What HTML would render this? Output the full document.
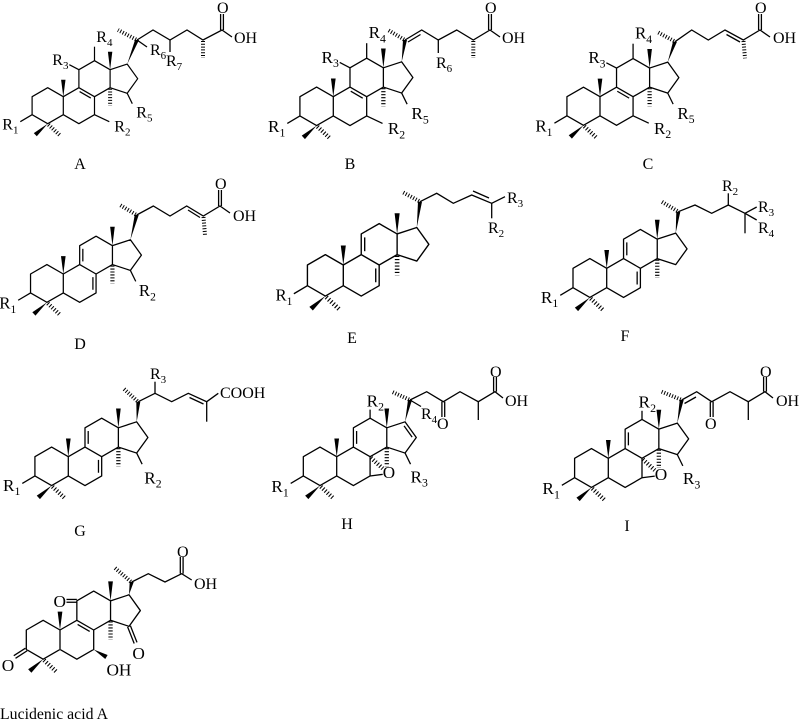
<!DOCTYPE html>
<html><head><meta charset="utf-8"><style>
html,body{margin:0;padding:0;background:#fff;}
svg{display:block;}
text{font-family:"Liberation Serif",serif;fill:#000;font-size:16px;}
tspan{font-size:11px;}
</style></head><body>
<svg width="800" height="723" viewBox="0 0 800 723" xmlns="http://www.w3.org/2000/svg">
<defs>
<g id="core">
 <path d="M-15.6,-9 L-31.2,0 L-31.2,18 L-15.6,27 L0,18 L0,0 Z M0,18 L15.6,27 L31.2,18 L31.2,0 L15.6,-9 L0,0 M15.6,-9 L15.6,-27 L31.2,-36 L46.8,-27 L46.8,-9 L31.2,0 M46.8,-27 L63.9,-32.6 L74.4,-18 L63.9,-3.4 L46.8,-9" fill="none" stroke="#000" stroke-width="1.2" stroke-linejoin="round"/>
 <line x1="46.8" y1="-8" x2="46.8" y2="9" stroke="#000" stroke-width="4" stroke-dasharray="1 1.8"/>
 <line x1="-14.8" y1="28" x2="-3" y2="39" stroke="#000" stroke-width="4" stroke-dasharray="1 1.8"/>
 <polygon points="0,0 -2.2,-17 2.2,-17" fill="#000"/>
 <polygon points="46.8,-27 44.6,-45 49,-45" fill="#000"/>
 <polygon points="-15.6,27 -26.5,39.6 -29.5,36.4" fill="#000"/>
</g>
<line id="d89" x1="16.3" y1="-5.15" x2="27.5" y2="1.35" stroke="#000" stroke-width="1.2"/>
<g id="d7911" stroke="#000" stroke-width="1.2"><line x1="28.2" y1="3" x2="28.2" y2="15"/><line x1="18.6" y1="-24" x2="18.6" y2="-12"/></g>
<line id="d911" x1="18.6" y1="-24" x2="18.6" y2="-12" stroke="#000" stroke-width="1.2"/>
<line id="sR1" x1="-31.2" y1="18" x2="-43" y2="25" stroke="#000" stroke-width="1.2"/>
<line id="sC7" x1="31.2" y1="18" x2="46" y2="25" stroke="#000" stroke-width="1.2"/>
<line id="sC11" x1="15.6" y1="-27" x2="6" y2="-32" stroke="#000" stroke-width="1.2"/>
<line id="sC12" x1="31.2" y1="-36" x2="31.2" y2="-50" stroke="#000" stroke-width="1.2"/>
<line id="sC12s" x1="31.2" y1="-36" x2="31.2" y2="-44" stroke="#000" stroke-width="1.2"/>
<line id="sC15" x1="63.9" y1="-3.4" x2="69" y2="7" stroke="#000" stroke-width="1.2"/>
<g id="epox"><line x1="32" y1="1" x2="43" y2="11" stroke="#000" stroke-width="4" stroke-dasharray="1 1.8"/><line x1="31.2" y1="18" x2="43" y2="16.5" stroke="#000" stroke-width="1.2"/></g>
</defs>

<!-- A -->
<g transform="translate(63.3,96.7)">
 <use href="#core"/><use href="#d89"/><use href="#sR1"/><use href="#sC7"/><use href="#sC11"/><use href="#sC12"/><use href="#sC15"/>
 <g><text x="-61" y="33">R<tspan dy="4">1</tspan></text><text x="51" y="35">R<tspan dy="4">2</tspan></text><text x="-11" y="-31.7">R<tspan dy="4">3</tspan></text><text x="33" y="-54.7">R<tspan dy="4">4</tspan></text><text x="73" y="21">R<tspan dy="4">5</tspan></text></g>
</g>
<g stroke="#000" stroke-width="1.3" fill="none">
 <polyline points="137,40 153,30 170,40 187,30 203,40 222,30 232,37"/>
 <line x1="147" y1="47" x2="137" y2="40"/><line x1="170" y1="40" x2="170" y2="52"/>
 <line x1="220.6" y1="30" x2="220.6" y2="14"/><line x1="223.4" y1="30" x2="223.4" y2="14"/>
 <line x1="136" y1="39.5" x2="118" y2="30" stroke-width="4" stroke-dasharray="1 1.8"/>
 <line x1="203" y1="41" x2="203" y2="58" stroke-width="4" stroke-dasharray="1 1.8"/>
</g>
<polygon points="127.2,64.1 135,40 139,40"/>
<g><text x="150" y="55">R<tspan dy="4">6</tspan></text><text x="166" y="66">R<tspan dy="4">7</tspan></text><text x="217" y="13">O</text><text x="234" y="43">OH</text></g>

<!-- B -->
<g transform="translate(333.3,96.7) scale(1.07)">
 <use href="#core"/><use href="#d89"/><use href="#sR1"/><use href="#sC7"/><use href="#sC11"/><use href="#sC12"/><use href="#sC15"/>
 <g><text x="-61" y="33">R<tspan dy="4">1</tspan></text><text x="51" y="35">R<tspan dy="4">2</tspan></text><text x="-11" y="-31.7">R<tspan dy="4">3</tspan></text><text x="33" y="-54.7">R<tspan dy="4">4</tspan></text><text x="73" y="21">R<tspan dy="4">5</tspan></text></g>
</g>
<g stroke="#000" stroke-width="1.3" fill="none">
 <polyline points="405,40 421.7,30 438.3,40 456.7,30 473.3,40 490,30 500,37"/>
 <line x1="408" y1="42" x2="420.5" y2="34.5"/>
 <line x1="438.3" y1="40" x2="438.3" y2="53"/>
 <line x1="488.6" y1="30" x2="488.6" y2="14"/><line x1="491.4" y1="30" x2="491.4" y2="14"/>
 <line x1="404" y1="39.5" x2="388" y2="30" stroke-width="4" stroke-dasharray="1 1.8"/>
 <line x1="473.3" y1="41" x2="473.3" y2="58" stroke-width="4" stroke-dasharray="1 1.8"/>
</g>
<polygon points="401.7,61.8 403,40 407,40"/>
<g><text x="436" y="68">R<tspan dy="4">6</tspan></text><text x="485" y="13">O</text><text x="502" y="43">OH</text></g>

<!-- C -->
<g transform="translate(600,96.7) scale(1.06)">
 <use href="#core"/><use href="#d89"/><use href="#sR1"/><use href="#sC7"/><use href="#sC11"/><use href="#sC12"/><use href="#sC15"/>
 <g><text x="-61" y="33">R<tspan dy="4">1</tspan></text><text x="51" y="35">R<tspan dy="4">2</tspan></text><text x="-11" y="-31.7">R<tspan dy="4">3</tspan></text><text x="33" y="-54.7">R<tspan dy="4">4</tspan></text><text x="73" y="21">R<tspan dy="4">5</tspan></text></g>
</g>
<g stroke="#000" stroke-width="1.3" fill="none">
 <polyline points="675,41.7 691.7,30 708.3,40 725,30 743.3,40 760,30 770,37"/>
 <line x1="726.5" y1="34.5" x2="740" y2="42"/>
 <line x1="758.6" y1="30" x2="758.6" y2="14"/><line x1="761.4" y1="30" x2="761.4" y2="14"/>
 <line x1="674" y1="41" x2="656.7" y2="31.7" stroke-width="4" stroke-dasharray="1 1.8"/>
 <line x1="743.5" y1="41" x2="745" y2="58.3" stroke-width="4" stroke-dasharray="1 1.8"/>
</g>
<polygon points="667.7,62.1 673,41.7 677,41.7"/>
<g><text x="755" y="13">O</text><text x="773" y="43">OH</text></g>

<!-- D -->
<g transform="translate(63.3,274) scale(1.05)">
 <use href="#core"/><use href="#d7911"/><use href="#sR1"/><use href="#sC15"/>
 <g><text x="-61" y="33">R<tspan dy="4">1</tspan></text><text x="72" y="21">R<tspan dy="4">2</tspan></text></g>
</g>
<g stroke="#000" stroke-width="1.3" fill="none">
 <polyline points="136.7,215 153.3,206 170,216 186.7,206 203.3,216 220,206 230,213"/>
 <line x1="188" y1="210" x2="200" y2="217.5"/>
 <line x1="218.6" y1="206" x2="218.6" y2="190"/><line x1="221.4" y1="206" x2="221.4" y2="190"/>
 <line x1="135.7" y1="214.5" x2="120" y2="205" stroke-width="4" stroke-dasharray="1 1.8"/>
 <line x1="203.5" y1="217" x2="205" y2="235" stroke-width="4" stroke-dasharray="1 1.8"/>
</g>
<polygon points="130.4,239.8 134.7,215 138.7,215"/>
<g><text x="215" y="189">O</text><text x="233" y="221">OH</text></g>

<!-- E -->
<g transform="translate(343.3,265) scale(1.15)">
 <use href="#core"/><use href="#d7911"/><use href="#sR1"/>
 <g style="font-size:14.5px"><text x="-59" y="31" style="font-size:14.5px">R<tspan dy="4" style="font-size:10px">1</tspan></text></g>
</g>
<g stroke="#000" stroke-width="1.3" fill="none">
 <polyline points="420,201.7 436.7,193.3 453.3,203.3 471.7,195 491.7,203.3 505,196.7"/>
 <line x1="473" y1="191" x2="489" y2="198"/>
 <line x1="491.7" y1="203.3" x2="491.7" y2="218.3"/>
 <line x1="419" y1="201" x2="401.7" y2="191.7" stroke-width="4" stroke-dasharray="1 1.8"/>
</g>
<polygon points="416.8,227.5 418,201.7 422,201.7"/>
<g><text x="507" y="203">R<tspan dy="4">3</tspan></text><text x="488" y="233">R<tspan dy="4">2</tspan></text></g>

<!-- F -->
<g transform="translate(606.7,268.3) scale(1.08)">
 <use href="#core"/><use href="#d7911"/><use href="#sR1"/>
 <g><text x="-61" y="32">R<tspan dy="4">1</tspan></text></g>
</g>
<g stroke="#000" stroke-width="1.3" fill="none">
 <polyline points="678.3,211.7 695,205 711.7,213.3 728.3,205 745,213.3 756.7,207"/>
 <line x1="728.3" y1="205" x2="728.3" y2="193.3"/>
 <line x1="745" y1="213.3" x2="756.7" y2="220"/><line x1="745" y1="213.3" x2="745" y2="233.3"/>
 <line x1="677.3" y1="211" x2="661.7" y2="201.7" stroke-width="4" stroke-dasharray="1 1.8"/>
</g>
<polygon points="675.7,233.1 676.3,211.7 680.3,211.7"/>
<g><text x="722" y="191">R<tspan dy="4">2</tspan></text><text x="758" y="212">R<tspan dy="4">3</tspan></text><text x="758" y="233">R<tspan dy="4">4</tspan></text></g>

<!-- G -->
<g transform="translate(68.3,456.7) scale(1.07)">
 <use href="#core"/><use href="#d7911"/><use href="#sR1"/><use href="#sC15"/>
 <g><text x="-61" y="32">R<tspan dy="4">1</tspan></text><text x="71" y="25">R<tspan dy="4">2</tspan></text></g>
</g>
<g stroke="#000" stroke-width="1.3" fill="none">
 <polyline points="138.3,401.7 155,393.3 171.7,401.7 188.3,393.3 206.7,401.7 218.3,393.3"/>
 <line x1="155" y1="393.3" x2="155" y2="381.7"/>
 <line x1="189.5" y1="397.5" x2="203.5" y2="404"/>
 <line x1="206.7" y1="401.7" x2="206.7" y2="421.7"/>
 <line x1="137.3" y1="401" x2="123.3" y2="388.3" stroke-width="4" stroke-dasharray="1 1.8"/>
</g>
<polygon points="136.7,421.8 136.3,401.7 140.3,401.7"/>
<g><text x="150" y="379">R<tspan dy="4">3</tspan></text><text x="220" y="398">COOH</text></g>

<!-- H -->
<g transform="translate(336.7,456.7) scale(1.07)">
 <use href="#core"/><use href="#d911"/><use href="#sR1"/><use href="#sC12s"/><use href="#sC15"/><use href="#epox"/>
 <line x1="62.96" y1="-28.8" x2="70.5" y2="-18.3" stroke="#000" stroke-width="1.2"/>
 <g><text x="-61" y="33">R<tspan dy="4">1</tspan></text><text x="28" y="-47">R<tspan dy="4">2</tspan></text><text x="69" y="24">R<tspan dy="4">3</tspan></text><text x="43" y="20">O</text></g>
</g>
<g stroke="#000" stroke-width="1.3" fill="none">
 <polyline points="410,400 426.7,391.7 443.3,401.7 460,391.7 478.3,401.7 495,391.7 503,398"/>
 <line x1="410" y1="400" x2="421" y2="406.5"/>
 <line x1="441.9" y1="401.7" x2="441.9" y2="417"/><line x1="444.7" y1="401.7" x2="444.7" y2="417"/>
 <line x1="478.3" y1="401.7" x2="478.3" y2="420"/>
 <line x1="493.6" y1="391.7" x2="493.6" y2="377"/><line x1="496.4" y1="391.7" x2="496.4" y2="377"/>
 <line x1="409" y1="399.5" x2="391.7" y2="391.7" stroke-width="4" stroke-dasharray="1 1.8"/>
</g>
<polygon points="405.1,421.8 408,400 412,400"/>
<g><text x="421" y="419">R<tspan dy="4">4</tspan></text><text x="437" y="429">O</text><text x="490" y="377">O</text><text x="505" y="406">OH</text></g>

<!-- I -->
<g transform="translate(608.3,458.3) scale(1.08)">
 <use href="#core"/><use href="#d911"/><use href="#sR1"/><use href="#sC12s"/><use href="#sC15"/><use href="#epox"/>
 <g><text x="-61" y="33">R<tspan dy="4">1</tspan></text><text x="28" y="-47">R<tspan dy="4">2</tspan></text><text x="69" y="24">R<tspan dy="4">3</tspan></text><text x="43" y="20">O</text></g>
</g>
<g stroke="#000" stroke-width="1.3" fill="none">
 <polyline points="681.7,400 696.7,391.7 711.7,401.7 730,391.7 748.3,401.7 765,391.7 773,398"/>
 <line x1="684.5" y1="403.5" x2="696" y2="397"/>
 <line x1="710.3" y1="401.7" x2="710.3" y2="417"/><line x1="713.1" y1="401.7" x2="713.1" y2="417"/>
 <line x1="748.3" y1="401.7" x2="748.3" y2="420"/>
 <line x1="763.6" y1="391.7" x2="763.6" y2="377"/><line x1="766.4" y1="391.7" x2="766.4" y2="377"/>
 <line x1="680.7" y1="399.5" x2="661.7" y2="391.7" stroke-width="4" stroke-dasharray="1 1.8"/>
</g>
<polygon points="677.3,423.1 679.7,400 683.7,400"/>
<g><text x="705" y="429">O</text><text x="760" y="377">O</text><text x="776" y="406">OH</text></g>

<!-- Lucidenic acid A -->
<g transform="translate(60,630) scale(1.08)">
 <use href="#core"/><use href="#d89"/>
 <g stroke="#000" stroke-width="1.2">
  <line x1="-30.4" y1="19.2" x2="-41.2" y2="26.2"/><line x1="-32" y1="16.8" x2="-42.8" y2="23.8"/>
  <line x1="15.6" y1="-28.3" x2="6" y2="-28.3"/><line x1="15.6" y1="-25.7" x2="6" y2="-25.7"/>
  <line x1="65.2" y1="-3.9" x2="71.3" y2="11.5"/><line x1="62.6" y1="-2.9" x2="68.7" y2="12.5"/>
 </g>
 <polygon points="31.2,18 41.9,26.9 44.1,23.1" fill="#000"/>
 <g><text x="-54" y="38">O</text><text x="-6" y="-21.5">O</text><text x="67" y="27">O</text><text x="43" y="42">OH</text></g>
</g>
<g stroke="#000" stroke-width="1.3" fill="none">
 <polyline points="131.7,582 148.3,573.7 165,582 181.7,573.7 191.7,580"/>
 <line x1="180.3" y1="573.7" x2="180.3" y2="557"/><line x1="183.1" y1="573.7" x2="183.1" y2="557"/>
 <line x1="130.7" y1="581.5" x2="115" y2="568" stroke-width="4" stroke-dasharray="1 1.8"/>
</g>
<polygon points="129,594.8 129.7,582 133.7,582"/>
<g><text x="177" y="557">O</text><text x="194" y="589">OH</text></g>

<!-- Labels -->
<g text-anchor="middle">
 <text x="80" y="169">A</text><text x="350" y="169">B</text><text x="648" y="169">C</text>
 <text x="80" y="349">D</text><text x="352" y="343">E</text><text x="625" y="341">F</text>
 <text x="80" y="536">G</text><text x="347" y="529">H</text><text x="627" y="531">I</text>
</g>
<text x="0" y="719" textLength="108" lengthAdjust="spacingAndGlyphs">Lucidenic acid A</text>
</svg>
</body></html>
